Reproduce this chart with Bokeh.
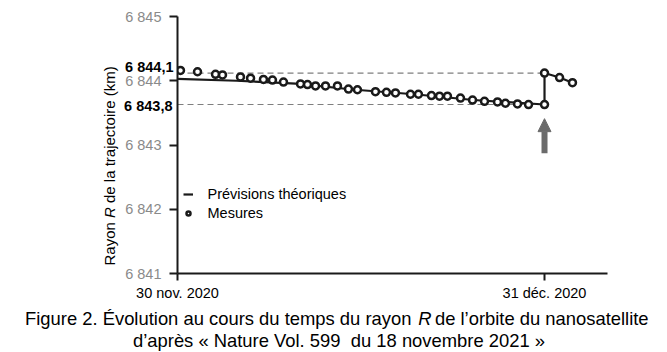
import math
from bokeh.plotting import figure
from bokeh.models import (Range1d, FixedTicker, Label, Arrow, NormalHead,
                          Legend, LegendItem)
from bokeh.embed import file_html
from bokeh.resources import INLINE

FONT = "Liberation Sans"

# ---------------- data ----------------
# days after 30 Nov 2020
measured_days = [0.25, 1.69, 3.21, 3.80, 5.32, 6.17, 7.26, 8.02, 8.95, 10.39,
                 10.98, 11.66, 12.50, 13.51, 14.44, 15.20, 16.72, 17.65, 18.41,
                 19.68, 20.35, 21.45, 22.13, 22.80, 23.90, 24.92, 25.93, 27.03,
                 27.70, 28.72, 29.65, 31.0, 31.0, 32.27, 33.36]
measured_R = [6844.16, 6844.14, 6844.10, 6844.09, 6844.06, 6844.04, 6844.02,
              6844.01, 6843.98, 6843.95, 6843.94, 6843.92, 6843.92, 6843.92,
              6843.87, 6843.86, 6843.83, 6843.82, 6843.81, 6843.79, 6843.79,
              6843.77, 6843.76, 6843.76, 6843.73, 6843.70, 6843.68, 6843.67,
              6843.65, 6843.64, 6843.63, 6843.63, 6844.12, 6844.05, 6843.97]
theory_days = [0, 5, 10, 15, 20, 25, 31]
theory_R = [6844.03, 6844.00, 6843.955, 6843.86, 6843.79, 6843.70, 6843.63]

ref_levels = [6844.12, 6843.63]
ref_labels = ["6 844,1", "6 843,8"]
maneuver_day = 31
arrow_R = [6842.87, 6843.41]

x_tick_days = [0, 31]
x_tick_labels = ["30 nov. 2020", "31 déc. 2020"]
y_ticks = [6841, 6842, 6843, 6844, 6845]
y_tick_labels = ["6 841", "6 842", "6 843", "6 844", "6 845"]

# caption line 1: the italic "R" is drawn separately in the gap (em space + nbsp = " R ")
caption_line1 = "Figure 2. Évolution au cours du temps du rayon\u2003\u00a0de l’orbite du nanosatellite"
caption_R = "R"
caption_line2 = "d’après « Nature Vol. 599\u00a0 du 18 novembre 2021 »"
y_title = ["Rayon", "R", "de la trajectoire (km)"]

# ---------------- figure ----------------
W, H = 667, 352
FL, FB = 177, 273  # frame left / bottom in canvas pixels

p = figure(width=W, height=H, x_range=Range1d(0, 36.32), y_range=Range1d(6841, 6845),
           output_backend="svg", toolbar_location=None,
           min_border_left=FL, min_border_right=W - 607,
           min_border_top=16, min_border_bottom=H - FB)
p.outline_line_color = None
p.grid.visible = False
p.background_fill_color = "white"
p.border_fill_color = "white"

AX = "#1a1a1a"
for ax in (p.xaxis[0], p.yaxis[0]):
    ax.axis_line_width = 2
    ax.axis_line_color = AX
    ax.major_tick_line_width = 2
    ax.major_tick_line_color = AX
    ax.major_tick_in = 0
    ax.minor_tick_line_color = None
    ax.major_label_text_font = FONT
    ax.major_label_text_font_size = "14.5px"

p.xaxis.ticker = FixedTicker(ticks=x_tick_days, minor_ticks=[])
p.xaxis.major_label_overrides = dict(zip(x_tick_days, x_tick_labels))
p.xaxis.major_tick_out = 7
p.xaxis.major_label_standoff = 4
p.xaxis.major_label_text_color = "black"

p.yaxis.ticker = FixedTicker(ticks=y_ticks, minor_ticks=[])
p.yaxis.major_label_overrides = dict(zip(y_ticks, y_tick_labels))
p.yaxis.major_tick_out = 8
p.yaxis.major_label_standoff = 8
p.yaxis.major_label_text_color = "#8a8a8a"

# dashed reference levels
p.segment(x0=[0] * len(ref_levels), y0=ref_levels,
          x1=[maneuver_day] * len(ref_levels), y1=ref_levels,
          line_dash="6 4", line_color="#7f7f7f", line_width=1.2)

# theoretical curve
r_line = p.line(theory_days, theory_R, line_width=2.2, line_color=AX)
# jump after maneuver, joining the measurements
p.line(measured_days[-4:], measured_R[-4:], line_width=2.2, line_color=AX)
# measurements
r_pts = p.scatter(measured_days, measured_R, size=7, line_width=2.5,
                  line_color=AX, fill_color="white")

# arrow
p.add_layout(Arrow(end=NormalHead(size=13, fill_color="#6b6b6b", line_color="#6b6b6b", line_width=1),
                   x_start=maneuver_day, y_start=arrow_R[0],
                   x_end=maneuver_day, y_end=arrow_R[1],
                   line_width=6, line_color="#6b6b6b"))


def side_label(side, cx, cy, text, align="left", style="normal", size="15px",
               angle=0.0, baseline="middle"):
    """Label positioned from canvas pixels (relative to the data origin of the frame);
    added to a side panel so that it is not clipped by the frame."""
    p.add_layout(Label(x=0, y=6841, x_offset=cx - FL, y_offset=FB - cy, text=text,
                       text_align=align, text_baseline=baseline, angle=angle,
                       text_font=FONT, text_font_size=size, text_font_style=style,
                       text_color="black"), side)


# bold labels for the reference levels
for lvl, txt, dy, dx, side in zip(ref_levels, ref_labels, [6, -1], [-4, -5], ["left", "right"]):
    p.add_layout(Label(x=0, y=lvl, text=txt, x_offset=dx, y_offset=dy,
                       text_align="right", text_baseline="middle",
                       text_font=FONT, text_font_size="14.5px",
                       text_font_style="bold", text_color="black"), side)

# y-axis title (rotated, with italic R)
TX = 109
for txt, cy, style in zip(y_title, [265.0, 217.5, 202.5], ["normal", "italic", "normal"]):
    side_label("left", TX, cy, txt, style=style, angle=math.pi / 2)

# caption
CAP = "18.4px"
X0 = 24.5
side_label("below", X0, 318, caption_line1, size=CAP)
side_label("left", 424.3, 318, caption_R, align="center", style="italic", size=CAP)
side_label("below", 338.5, 340, caption_line2, align="center", size=CAP)

# legend
legend = Legend(items=[LegendItem(label="Prévisions théoriques", renderers=[r_line]),
                       LegendItem(label="Mesures", renderers=[r_pts])],
                location=(5.5, 51), glyph_width=10, glyph_height=18, label_height=18,
                label_standoff=15, spacing=1, padding=0, margin=0,
                border_line_color=None, background_fill_alpha=0,
                label_text_font=FONT, label_text_font_size="14.5px",
                label_text_baseline="middle", label_text_color="black")
p.add_layout(legend)

open("out.html", "w").write(file_html(p, INLINE))
